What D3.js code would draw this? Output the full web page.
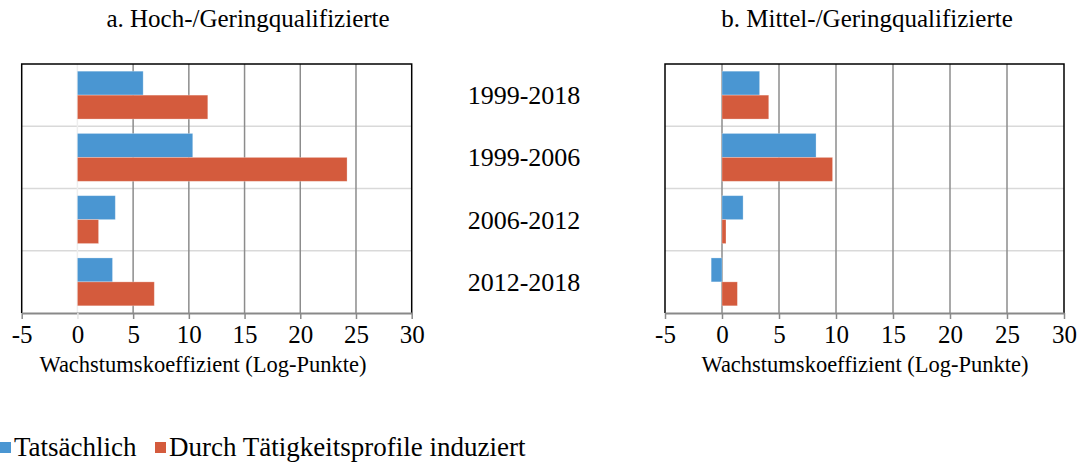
<!DOCTYPE html>
<html>
<head>
<meta charset="utf-8">
<script src="https://cdn.jsdelivr.net/npm/d3@7"></script>
<style>
    body { margin: 0; background: #fff; }
    text { font-family: "Liberation Serif", "Times New Roman", serif; fill: #000; }
</style>
</head>
<body>
<svg id="chart" width="1082" height="464"></svg>
<script>
// categories and series
const periods = ["1999-2018", "1999-2006", "2006-2012", "2012-2018"];
const seriesNames = ["Tatsächlich", "Durch Tätigkeitsprofile induziert"];
const seriesColors = ["#4a96d2", "#d45b3d"];

// a. Hoch-/Geringqualifizierte
const hochActual = [5.9, 10.35, 3.4, 3.15];
const hochInduced = [11.7, 24.2, 1.9, 6.9];

// b. Mittel-/Geringqualifizierte
const mittelActual = [3.3, 8.25, 1.85, -0.95];
const mittelInduced = [4.1, 9.7, 0.35, 1.35];

const xTicks = [-5, 0, 5, 10, 15, 20, 25, 30];
const axisTitle = "Wachstumskoeffizient (Log-Punkte)";

const svg = d3.select("#chart");
const plotTop = 64, plotBottom = 313;
const serif = '"Liberation Serif", "Times New Roman", serif';

let y = d3.scaleBand().domain(periods).range([plotTop, plotBottom]);

/**
 * draws one panel
 */
function drawPanel(p) {
    let x = d3.scaleLinear().domain([-5, 30]).range([p.x0, p.x1]);
    let g = svg.append("g");

    // horizontal gridlines between categories
    g.selectAll(".hgrid")
        .data(periods.slice(1))
        .enter()
        .append("line")
        .attr("x1", p.x0).attr("x2", p.x1)
        .attr("y1", d => y(d)).attr("y2", d => y(d))
        .attr("stroke", "#d9d9d9")
        .attr("stroke-width", 1.5);

    // vertical gridlines
    g.selectAll(".vgrid")
        .data(xTicks.slice(1, -1))
        .enter()
        .append("line")
        .attr("x1", d => x(d)).attr("x2", d => x(d))
        .attr("y1", plotTop).attr("y2", plotBottom)
        .attr("stroke", d => (d === 0 && p.lightZero) ? "#eeeeee" : "#8c8c8c")
        .attr("stroke-width", 1.5);

    // bars
    let inner = d3.scaleBand().domain([0, 1]).range([0, y.bandwidth()]).paddingOuter(0.3);
    [p.actual, p.induced].forEach((vals, si) => {
        g.selectAll(".bar" + si)
            .data(vals)
            .enter()
            .append("rect")
            .attr("x", d => x(Math.min(0, d)))
            .attr("width", d => Math.abs(x(d) - x(0)))
            .attr("y", (d, i) => y(periods[i]) + inner(si))
            .attr("height", inner.bandwidth())
            .attr("fill", seriesColors[si])
            .attr("stroke", "#ffffff")
            .attr("stroke-opacity", 0.35)
            .attr("stroke-width", 0.8);
    });

    // frame (left, top, right)
    g.append("path")
        .attr("d", `M${p.x0},${plotBottom}V${plotTop}H${p.x1}V${plotBottom}`)
        .attr("fill", "none")
        .attr("stroke", "#000")
        .attr("stroke-width", 1.5);

    // bottom axis
    let axis = d3.axisBottom(x)
        .tickValues(xTicks)
        .tickSize(6)
        .tickSizeOuter(0)
        .tickPadding(6)
        .tickFormat(d => d < 0 ? "-" + Math.abs(d) : String(d));

    let ax = g.append("g")
        .attr("transform", `translate(0,${plotBottom})`)
        .call(axis);
    ax.select(".domain").attr("stroke", "#898989").attr("stroke-width", 2);
    ax.selectAll(".tick line")
        .attr("stroke", d => (d === 0 && p.lightZero) ? "#e6e6e6" : "#898989")
        .attr("stroke-width", 1.5);
    ax.selectAll(".tick text")
        .attr("font-size", 25)
        .attr("fill", "#000")
        .style("font-family", serif);

    // panel title
    g.append("text")
        .attr("x", p.titleX)
        .attr("y", 27)
        .attr("text-anchor", "middle")
        .attr("font-size", 25)
        .style("font-family", serif)
        .text(p.title);

    // axis title
    g.append("text")
        .attr("x", p.axisTitleX)
        .attr("y", 372)
        .attr("text-anchor", "middle")
        .attr("font-size", 22.5)
        .style("font-family", serif)
        .text(axisTitle);
}

drawPanel({
    title: "a. Hoch-/Geringqualifizierte", actual: hochActual, induced: hochInduced,
    x0: 21.7, x1: 411.7, lightZero: true, titleX: 248, axisTitleX: 203
});
drawPanel({
    title: "b. Mittel-/Geringqualifizierte", actual: mittelActual, induced: mittelInduced,
    x0: 665, x1: 1064, lightZero: false, titleX: 867, axisTitleX: 865
});

// category labels in the middle
svg.selectAll(".cat")
    .data(periods)
    .enter()
    .append("text")
    .attr("x", 524)
    .attr("y", d => y(d) + y.bandwidth() / 2)
    .attr("dy", "0.35em")
    .attr("text-anchor", "middle")
    .attr("font-size", 26)
    .style("font-family", serif)
    .text(d => d);

// legend
let legend = svg.append("g").attr("transform", "translate(0,447)");
let lx = [0, 155];
seriesNames.forEach((name, i) => {
    legend.append("rect")
        .attr("x", lx[i]).attr("y", -5)
        .attr("width", 11).attr("height", 11)
        .attr("fill", seriesColors[i]);
    legend.append("text")
        .attr("x", lx[i] + 14)
        .attr("y", 0)
        .attr("dy", "0.35em")
        .attr("font-size", 27)
        .style("font-family", serif)
        .text(name);
});
</script>
</body>
</html>
